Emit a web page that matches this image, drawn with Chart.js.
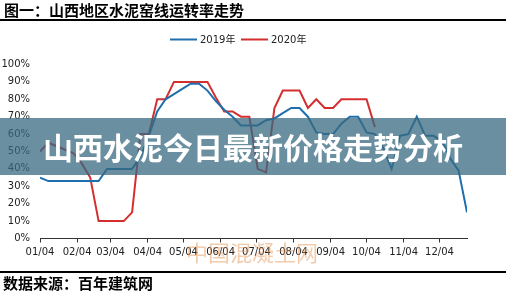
<!DOCTYPE html>
<html>
<head>
<meta charset="utf-8">
<script src="https://cdn.jsdelivr.net/npm/chart.js@4.4.1/dist/chart.umd.min.js"></script>
<style>
  html, body { margin: 0; padding: 0; background: #fff; }
  #wrap { position: relative; width: 506px; height: 294px; overflow: hidden; font-family: "Noto Sans CJK SC", sans-serif; }
  #chart { position: absolute; left: 0; top: 0; }
  .title { position: absolute; left: 4px; top: 0; font-size: 15px; font-weight: 700; color: #000; line-height: 20px; white-space: nowrap; }
  .rule { position: absolute; left: 0; width: 506px; height: 1.5px; background: #000; }
  .source { position: absolute; left: 3px; top: 273px; font-size: 15px; font-weight: 700; color: #000; line-height: 20px; white-space: nowrap; }
  .band { position: absolute; left: 0; top: 118px; width: 506px; height: 57px; background: rgba(56, 106, 128, 0.75); }
  .band span { position: absolute; left: 0; width: 506px; top: 0; line-height: 57px; text-align: center; color: #fff; font-size: 30px; font-weight: 700; white-space: nowrap; }
  .mark { position: absolute; left: 186px; top: 238px; font-size: 22px; line-height: 26px; color: rgba(226, 142, 72, 0.45); white-space: nowrap; }
</style>
</head>
<body>
<div id="wrap">
  <canvas id="chart" width="506" height="294"></canvas>
  <div class="title">图一：山西地区水泥窑线运转率走势</div>
  <div class="rule" style="top:19px"></div>
  <div class="mark">中国混凝土网</div>
  <div class="band"><span>山西水泥今日最新价格走势分析</span></div>
  <div class="rule" style="top:271px"></div>
  <div class="source">数据来源：百年建筑网</div>
</div>
<script>
// weekly sample dates (MM/DD)
const weekDates = [
    '01/04', '01/11', '01/18', '01/25', '02/01', '02/08', '02/15', '02/22',
    '03/01', '03/08', '03/15', '03/22', '03/29', '04/05', '04/12', '04/19',
    '04/26', '05/03', '05/10', '05/17', '05/24', '05/31', '06/07', '06/14',
    '06/21', '06/28', '07/05', '07/12', '07/19', '07/26', '08/02', '08/09',
    '08/16', '08/23', '08/30', '09/06', '09/13', '09/20', '09/27', '10/04',
    '10/11', '10/18', '10/25', '11/01', '11/08', '11/15', '11/22', '11/29',
    '12/06', '12/13', '12/20', '12/27'
];

// kiln line operating rate, %
const rate2019 = [
    35, 33, 33, 33, 33, 33, 33, 33, 40, 40, 40, 40, 47, 59, 73, 80,
    83, 86, 89, 89, 85, 79, 74, 70, 65, 65, 65, 68, 69, 72, 75, 75,
    70, 61, 60, 60, 66, 70, 70, 61, 60, 52, 40, 59, 60, 70, 59, 59,
    56, 46, 39, 15
];
const rate2020 = [
    50, 55, 53, 51, 49, 43, 35, 10, 10, 10, 10, 15, 60, 60, 80, 80,
    90, 90, 90, 90, 90, 81, 73, 73, 70, 70, 40, 38, 75, 85, 85, 85,
    75, 80, 75, 75, 80, 80, 80, 80, 64
];

const seriesNames = ['2019年', '2020年'];
const tickLabels = ['01/04', '02/04', '03/04', '04/04', '05/04', '06/04',
    '07/04', '08/04', '09/04', '10/04', '11/04', '12/04'];
const yTicks = [0, 10, 20, 30, 40, 50, 60, 70, 80, 90, 100];
const xEnd = '12/27';

// day of year for a MM/DD string
function dayOfYear(md) {
    const [m, d] = md.split('/').map(Number);
    const t = Date.UTC(2019, m - 1, d) - Date.UTC(2019, 0, 0);
    return Math.round(t / 86400000);
}

function toPoints(values) {
    return values.map((v, i) => ({ x: dayOfYear(weekDates[i]), y: v }));
}

const tickDays = tickLabels.map(dayOfYear);
const labelFont = { family: '"DejaVu Sans", "Noto Sans CJK SC", sans-serif', size: 10 };

// line legend drawn above the plot
const lineLegend = {
    id: 'lineLegend',
    afterDraw(chart) {
        const ctx = chart.ctx;
        const xs = [170, 241];
        const y = 39.5;
        ctx.save();
        ctx.font = '10px "DejaVu Sans", "Noto Sans CJK SC", sans-serif';
        ctx.textBaseline = 'middle';
        chart.data.datasets.forEach((ds, i) => {
            ctx.strokeStyle = ds.borderColor;
            ctx.lineWidth = 2;
            ctx.beginPath();
            ctx.moveTo(xs[i], y);
            ctx.lineTo(xs[i] + 27, y);
            ctx.stroke();
            ctx.fillStyle = '#222';
            ctx.fillText(ds.label, xs[i] + 30, y + 0.5);
        });
        ctx.restore();
    }
};

new Chart(document.getElementById('chart'), {
    type: 'line',
    data: {
        datasets: [
            {
                label: seriesNames[0],
                data: toPoints(rate2019),
                borderColor: '#1f6fae',
                backgroundColor: '#1f6fae',
                borderWidth: 2,
                pointRadius: 0,
                tension: 0
            },
            {
                label: seriesNames[1],
                data: toPoints(rate2020),
                borderColor: '#d32f2f',
                backgroundColor: '#d32f2f',
                borderWidth: 2,
                pointRadius: 0,
                tension: 0
            }
        ]
    },
    options: {
        responsive: false,
        animation: false,
        layout: {
            padding: { left: 0, right: 39, top: 64.5, bottom: 35.5 }
        },
        scales: {
            x: {
                type: 'linear',
                min: dayOfYear(weekDates[0]),
                max: dayOfYear(xEnd),
                afterBuildTicks: (scale) => {
                    scale.ticks = tickDays.map(v => ({ value: v }));
                },
                afterFit: (scale) => { scale.height = 20; },
                ticks: {
                    autoSkip: false,
                    maxRotation: 0,
                    padding: 4,
                    color: '#222',
                    font: labelFont,
                    callback: (v) => tickLabels[tickDays.indexOf(v)]
                },
                grid: {
                    drawOnChartArea: false,
                    drawTicks: true,
                    tickLength: 4,
                    color: '#333'
                },
                border: { display: true, color: '#333', width: 1 }
            },
            y: {
                min: 0,
                max: 100,
                afterBuildTicks: (scale) => {
                    scale.ticks = yTicks.map(v => ({ value: v }));
                },
                afterFit: (scale) => { scale.width = 40; },
                ticks: {
                    padding: 10,
                    color: '#222',
                    font: labelFont,
                    callback: (v) => v + '%'
                },
                grid: { display: false, drawTicks: false },
                border: { display: false }
            }
        },
        plugins: {
            legend: { display: false },
            title: { display: false },
            tooltip: { enabled: false }
        }
    },
    plugins: [lineLegend]
});
</script>
</body>
</html>
